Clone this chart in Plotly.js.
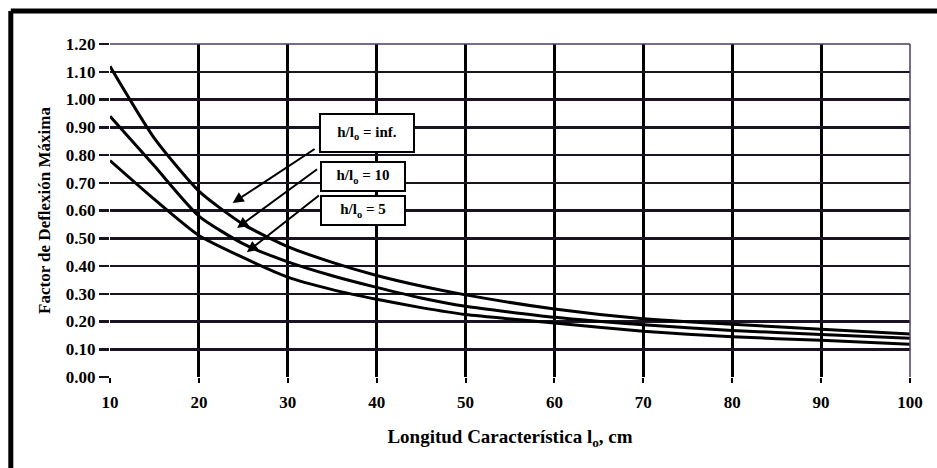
<!DOCTYPE html>
<html>
<head>
<meta charset="utf-8">
<script src="https://cdn.plot.ly/plotly-3.0.1.min.js"></script>
<style>
  html, body { margin: 0; padding: 0; background: #ffffff; }
  #chart { width: 937px; height: 468px; }
</style>
</head>
<body>
<div id="chart"></div>
<script>
// Longitud característica l0 (cm)
const lengths = [10, 15, 20, 25, 30, 35, 40, 45, 50, 60, 70, 80, 90, 100];
// Factor de deflexión máxima for each h/l0 ratio
const factorInf = [1.12, 0.86, 0.67, 0.55, 0.47, 0.413, 0.366, 0.328, 0.296, 0.245, 0.21, 0.19, 0.172, 0.155];
const factor10  = [0.94, 0.76, 0.58, 0.48, 0.415, 0.365, 0.323, 0.285, 0.255, 0.215, 0.188, 0.168, 0.153, 0.14];
const factor5   = [0.78, 0.64, 0.51, 0.43, 0.36, 0.315, 0.28, 0.25, 0.225, 0.195, 0.165, 0.145, 0.132, 0.118];

const seriesNames = ['h/l<sub>o</sub> = inf.', 'h/l<sub>o</sub> = 10', 'h/l<sub>o</sub> = 5'];
const xTickVals = [10, 20, 30, 40, 50, 60, 70, 80, 90, 100];
const yTickVals = [0, 0.1, 0.2, 0.3, 0.4, 0.5, 0.6, 0.7, 0.8, 0.9, 1.0, 1.1, 1.2];
const yTickText = ['0.00','0.10','0.20','0.30','0.40','0.50','0.60','0.70','0.80','0.90','1.00','1.10','1.20'];

const serif = 'Liberation Serif, Times New Roman, serif';
const lineStyle = {color: '#000000', width: 3, shape: 'spline', smoothing: 0.6};

const traces = [factorInf, factor10, factor5].map((ys, i) => ({
  x: lengths, y: ys, type: 'scatter', mode: 'lines',
  name: seriesNames[i], line: lineStyle, showlegend: false
}));

const boxFont = {family: serif, size: 15, color: '#000', weight: 'bold'};
const arrowStyle = {xref: 'x', yref: 'y', text: ' ', showarrow: true,
  arrowhead: 2, arrowsize: 1.1, arrowwidth: 2, arrowcolor: '#000'};
const annotations = [
  {x: 38.9, y: 0.879, xref: 'x', yref: 'y', text: seriesNames[0], showarrow: false,
   bordercolor: '#000', borderwidth: 2, bgcolor: '#fff', width: 90, height: 34, font: boxFont},
  {x: 38.5, y: 0.722, xref: 'x', yref: 'y', text: seriesNames[1], showarrow: false,
   bordercolor: '#000', borderwidth: 2, bgcolor: '#fff', width: 80, height: 25, font: boxFont},
  {x: 38.5, y: 0.600, xref: 'x', yref: 'y', text: seriesNames[2], showarrow: false,
   bordercolor: '#000', borderwidth: 2, bgcolor: '#fff', width: 80, height: 25, font: boxFont},
  Object.assign({x: 23.8, y: 0.627, ax: 85, ay: -56}, arrowStyle),
  Object.assign({x: 24.3, y: 0.537, ax: 83, ay: -61}, arrowStyle),
  Object.assign({x: 25.4, y: 0.450, ax: 75, ay: -59}, arrowStyle)
];

const shapes = [
  // outer frame (left and top edges)
  {type: 'line', xref: 'paper', yref: 'paper', x0: -0.124, x1: -0.124, y0: -0.3, y1: 1.099,
   line: {color: '#000', width: 5}},
  {type: 'line', xref: 'paper', yref: 'paper', x0: -0.124, x1: 1.1, y0: 1.099, y1: 1.099,
   line: {color: '#000', width: 5}},
  // thin plot border top/right
  {type: 'line', xref: 'paper', yref: 'paper', x0: 0, x1: 1, y0: 1, y1: 1,
   line: {color: '#4b3b5e', width: 1.5}},
  {type: 'line', xref: 'paper', yref: 'paper', x0: 1, x1: 1, y0: 0, y1: 1,
   line: {color: '#4b3b5e', width: 1.5}}
];

const layout = {
  width: 937, height: 468,
  margin: {l: 110, r: 27, t: 44, b: 91},
  paper_bgcolor: '#ffffff', plot_bgcolor: '#ffffff',
  showlegend: false,
  xaxis: {
    range: [10, 100], tickvals: xTickVals, ticktext: xTickVals.map(String),
    showgrid: true, gridcolor: '#000', gridwidth: 3, zeroline: false, showline: false,
    ticks: 'outside', ticklen: 5, tickwidth: 2, tickcolor: '#000', ticklabelstandoff: 5,
    tickfont: {family: serif, size: 17, color: '#000', weight: 'bold'},
    title: {text: 'Longitud Característica l<sub>o</sub>, cm', standoff: 18,
            font: {family: serif, size: 19, color: '#000', weight: 'bold'}}
  },
  yaxis: {
    range: [0, 1.2], tickvals: yTickVals, ticktext: yTickText,
    showgrid: true, gridcolor: '#1a1422', gridwidth: 2.5, zeroline: false, showline: false,
    ticks: 'outside', ticklen: 10, tickwidth: 2.5, tickcolor: '#1a1422', ticklabelstandoff: 0,
    tickfont: {family: serif, size: 17, color: '#000', weight: 'bold'},
    title: {text: 'Factor de Deflexión Máxima', standoff: 10,
            font: {family: serif, size: 17, color: '#000', weight: 'bold'}}
  },
  annotations: annotations,
  shapes: shapes
};

Plotly.newPlot('chart', traces, layout, {displayModeBar: false, staticPlot: true});
</script>
</body>
</html>
